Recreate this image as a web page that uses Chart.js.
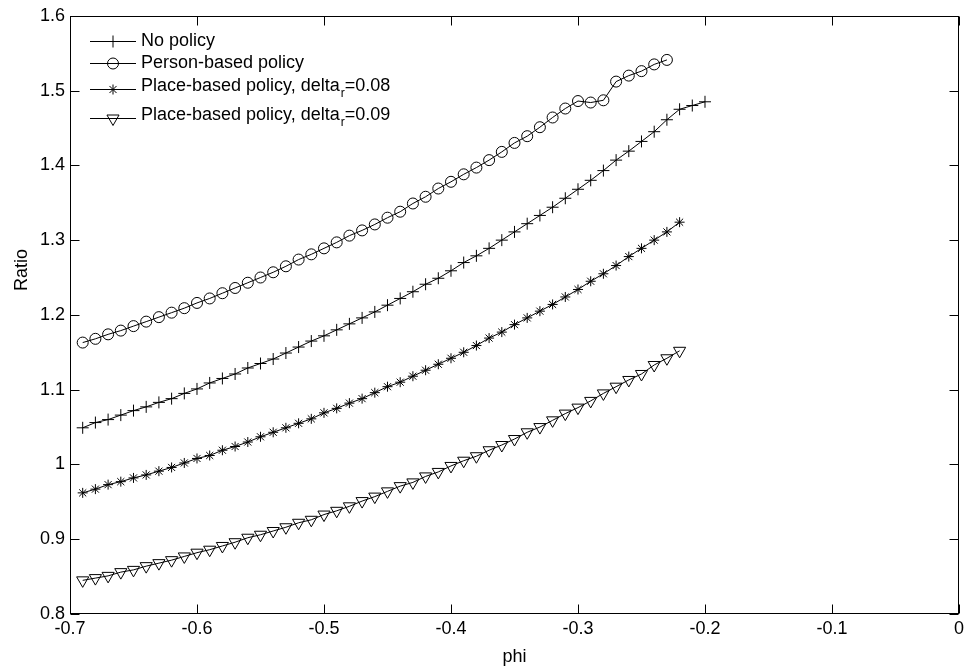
<!DOCTYPE html>
<html>
<head>
<meta charset="utf-8">
<script src="https://cdn.jsdelivr.net/npm/chart.js@4/dist/chart.umd.min.js"></script>
<style>
  html, body { margin: 0; padding: 0; background: #fff; }
  #wrap { width: 968px; height: 669px; position: relative; }
</style>
</head>
<body>
<div id="wrap"><canvas id="c" width="968" height="669"></canvas></div>
<script>
// ---------------- data ----------------
const xTicks = [-0.7, -0.6, -0.5, -0.4, -0.3, -0.2, -0.1, 0];
const yTicks = [0.8, 0.9, 1.0, 1.1, 1.2, 1.3, 1.4, 1.5, 1.6];

const phiNoPolicy = [-0.69,-0.68,-0.67,-0.66,-0.65,-0.64,-0.63,-0.62,-0.61,-0.60,
  -0.59,-0.58,-0.57,-0.56,-0.55,-0.54,-0.53,-0.52,-0.51,-0.50,
  -0.49,-0.48,-0.47,-0.46,-0.45,-0.44,-0.43,-0.42,-0.41,-0.40,
  -0.39,-0.38,-0.37,-0.36,-0.35,-0.34,-0.33,-0.32,-0.31,-0.30,
  -0.29,-0.28,-0.27,-0.26,-0.25,-0.24,-0.23,-0.22,-0.21,-0.20];
const ratioNoPolicy = [1.049,1.056,1.060,1.066,1.072,1.077,1.083,1.088,1.095,1.101,
  1.109,1.115,1.121,1.129,1.135,1.141,1.149,1.157,1.165,1.172,
  1.180,1.188,1.196,1.204,1.213,1.222,1.231,1.241,1.249,1.259,
  1.270,1.279,1.289,1.300,1.311,1.322,1.333,1.344,1.356,1.368,
  1.380,1.393,1.407,1.419,1.432,1.445,1.461,1.475,1.480,1.485];

const phiPerson = [-0.69,-0.68,-0.67,-0.66,-0.65,-0.64,-0.63,-0.62,-0.61,-0.60,
  -0.59,-0.58,-0.57,-0.56,-0.55,-0.54,-0.53,-0.52,-0.51,-0.50,
  -0.49,-0.48,-0.47,-0.46,-0.45,-0.44,-0.43,-0.42,-0.41,-0.40,
  -0.39,-0.38,-0.37,-0.36,-0.35,-0.34,-0.33,-0.32,-0.31,-0.30,
  -0.29,-0.28,-0.27,-0.26,-0.25,-0.24,-0.23];
const ratioPerson = [1.163,1.168,1.174,1.179,1.185,1.191,1.197,1.203,1.209,1.216,
  1.222,1.229,1.236,1.243,1.250,1.257,1.265,1.274,1.281,1.289,
  1.297,1.306,1.313,1.321,1.330,1.338,1.349,1.358,1.369,1.378,
  1.388,1.397,1.407,1.418,1.430,1.439,1.451,1.464,1.476,1.486,
  1.484,1.487,1.512,1.520,1.526,1.535,1.541];

const phiPlace = [-0.69,-0.68,-0.67,-0.66,-0.65,-0.64,-0.63,-0.62,-0.61,-0.60,
  -0.59,-0.58,-0.57,-0.56,-0.55,-0.54,-0.53,-0.52,-0.51,-0.50,
  -0.49,-0.48,-0.47,-0.46,-0.45,-0.44,-0.43,-0.42,-0.41,-0.40,
  -0.39,-0.38,-0.37,-0.36,-0.35,-0.34,-0.33,-0.32,-0.31,-0.30,
  -0.29,-0.28,-0.27,-0.26,-0.25,-0.24,-0.23,-0.22];
const ratioPlace008 = [0.962,0.967,0.973,0.977,0.982,0.986,0.991,0.996,1.002,1.008,
  1.012,1.019,1.024,1.030,1.037,1.043,1.049,1.055,1.061,1.069,
  1.075,1.082,1.088,1.096,1.104,1.110,1.118,1.126,1.134,1.142,
  1.150,1.159,1.169,1.177,1.187,1.196,1.205,1.214,1.224,1.234,
  1.245,1.255,1.266,1.278,1.289,1.300,1.311,1.324];
const ratioPlace009 = [0.845,0.848,0.851,0.856,0.859,0.864,0.868,0.872,0.877,0.882,
  0.886,0.891,0.896,0.902,0.906,0.911,0.916,0.922,0.926,0.933,
  0.938,0.944,0.951,0.957,0.964,0.971,0.976,0.984,0.990,0.998,
  1.005,1.011,1.019,1.026,1.034,1.043,1.050,1.059,1.068,1.076,
  1.085,1.095,1.104,1.113,1.121,1.133,1.142,1.152];

const seriesNames = ['No policy', 'Person-based policy', 'Place-based policy, delta', 'Place-based policy, delta'];
const legendSuffix = ['', '', '=0.08', '=0.09'];
const xTitle = 'phi';
const yTitle = 'Ratio';

// ---------------- build ----------------
const FONT = '"Liberation Sans", Arial, Helvetica, sans-serif';
const pts = (xs, ys) => xs.map((v, i) => ({x: v, y: ys[i]}));
const fmt = v => String(Number(Number(v).toFixed(2)));

function ds(label, xs, ys, style, radius, rot) {
  return {
    label, data: pts(xs, ys),
    borderColor: '#000', borderWidth: 1, backgroundColor: 'rgba(0,0,0,0)',
    pointStyle: style, pointRadius: radius, pointHoverRadius: radius,
    pointBorderColor: '#000', pointBackgroundColor: 'rgba(0,0,0,0)',
    pointBorderWidth: 1, pointRotation: rot || 0,
    tension: 0, fill: false, showLine: true
  };
}

const datasets = [
  ds(seriesNames[0], phiNoPolicy, ratioNoPolicy, 'cross', 6),
  ds(seriesNames[1], phiPerson, ratioPerson, 'circle', 5.5),
  ds(seriesNames[2], phiPlace, ratioPlace008, 'star', 5),
  ds(seriesNames[3], phiPlace, ratioPlace009, 'triangle', 7, 180)
];

function drawMarker(ctx, style, x, y) {
  ctx.beginPath();
  if (style === 'cross') {
    ctx.moveTo(x - 6, y); ctx.lineTo(x + 6, y);
    ctx.moveTo(x, y - 6); ctx.lineTo(x, y + 6);
  } else if (style === 'circle') {
    ctx.arc(x, y, 5.5, 0, Math.PI * 2);
  } else if (style === 'star') {
    const r = 5;
    for (let k = 0; k < 4; k++) {
      const a = k * Math.PI / 4;
      ctx.moveTo(x - r * Math.cos(a), y - r * Math.sin(a));
      ctx.lineTo(x + r * Math.cos(a), y + r * Math.sin(a));
    }
  } else if (style === 'triangle') {
    const r = 7;
    for (let k = 0; k < 3; k++) {
      const a = Math.PI + k * 2 * Math.PI / 3;
      const px = x + Math.sin(a) * r, py = y - Math.cos(a) * r;
      if (k === 0) ctx.moveTo(px, py); else ctx.lineTo(px, py);
    }
    ctx.closePath();
  }
  ctx.stroke();
}

const framePlugin = {
  id: 'frame',
  afterDatasetsDraw(chart) {
    const {ctx, chartArea: a, scales} = chart;
    const xs = scales.x, ys = scales.y;
    ctx.save();
    ctx.strokeStyle = '#000';
    ctx.lineWidth = 1;
    const L = Math.round(a.left) + 0.5, R = Math.round(a.right) - 0.5;
    const T = Math.round(a.top) + 0.5, B = Math.round(a.bottom) - 0.5;
    ctx.strokeRect(L, T, R - L, B - T);
    const tl = 9;
    ctx.beginPath();
    xTicks.forEach(v => {
      const px = Math.round(xs.getPixelForValue(v)) + 0.5;
      ctx.moveTo(px, B); ctx.lineTo(px, B - tl);
      ctx.moveTo(px, T); ctx.lineTo(px, T + tl);
    });
    yTicks.forEach(v => {
      const py = Math.round(ys.getPixelForValue(v)) + 0.5;
      ctx.moveTo(L, py); ctx.lineTo(L + tl, py);
      ctx.moveTo(R, py); ctx.lineTo(R - tl, py);
    });
    ctx.stroke();

    // axis titles
    ctx.fillStyle = '#000';
    ctx.font = '18px ' + FONT;
    ctx.textAlign = 'center';
    ctx.textBaseline = 'middle';
    ctx.fillText(xTitle, (a.left + a.right) / 2, 657);
    ctx.save();
    ctx.translate(22, 270);
    ctx.rotate(-Math.PI / 2);
    ctx.fillText(yTitle, 0, 0);
    ctx.restore();

    // legend
    const styles = ['cross', 'circle', 'star', 'triangle'];
    const lineYs = [41, 63, 89, 118];
    const textYs = [41, 63, 86, 115];
    ctx.textAlign = 'left';
    styles.forEach((s, i) => {
      const y = lineYs[i] + 0.5;
      ctx.beginPath();
      ctx.moveTo(90, y); ctx.lineTo(136, y);
      ctx.stroke();
      drawMarker(ctx, s, 113, y);
      ctx.font = '18px ' + FONT;
      let tx = 141;
      ctx.fillText(seriesNames[i], tx, textYs[i]);
      tx += ctx.measureText(seriesNames[i]).width;
      if (legendSuffix[i]) {
        ctx.font = '12px ' + FONT;
        ctx.fillText('r', tx + 1, textYs[i] + 8);
        tx += ctx.measureText('r').width + 1;
        ctx.font = '18px ' + FONT;
        ctx.fillText(legendSuffix[i], tx, textYs[i]);
      }
    });
    ctx.restore();
  }
};

new Chart(document.getElementById('c'), {
  type: 'scatter',
  data: { datasets },
  options: {
    responsive: false,
    devicePixelRatio: 1,
    animation: false,
    events: [],
    layout: { padding: { top: 15, right: 9, left: 0, bottom: 0 } },
    plugins: { legend: { display: false }, tooltip: { enabled: false } },
    scales: {
      x: {
        type: 'linear', min: -0.7, max: 0,
        afterBuildTicks: s => { s.ticks = xTicks.map(v => ({value: v})); },
        afterFit: s => { s.height = 55; },
        grid: { display: false, drawTicks: false },
        border: { display: false },
        ticks: { color: '#000', font: { family: FONT, size: 18 }, padding: 4, maxRotation: 0, autoSkip: false, callback: v => fmt(v) }
      },
      y: {
        type: 'linear', min: 0.8, max: 1.6,
        afterBuildTicks: s => { s.ticks = yTicks.map(v => ({value: v})); },
        afterFit: s => { s.width = 70; },
        grid: { display: false, drawTicks: false },
        border: { display: false },
        ticks: { color: '#000', font: { family: FONT, size: 18 }, padding: 5, autoSkip: false, callback: v => fmt(v) }
      }
    }
  },
  plugins: [framePlugin]
});
</script>
</body>
</html>
